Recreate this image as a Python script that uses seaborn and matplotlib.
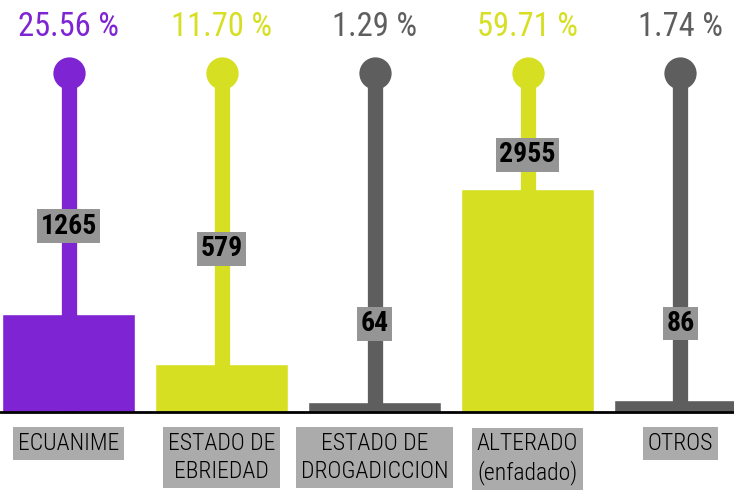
import numpy as np
import pandas as pd
import seaborn as sns
import matplotlib.pyplot as plt
from matplotlib import font_manager as fm

categories = ['ECUANIME', 'ESTADO DE\nEBRIEDAD', 'ESTADO DE\nDROGADICCION', 'ALTERADO\n(enfadado)', 'OTROS']
counts = [1265, 579, 64, 2955, 86]
colors = ['#7e24d2', '#d6df22', '#5e5e5e', '#d6df22', '#5e5e5e']
# height of the count boxes on each stem (fraction of axes height)
count_box_y = [0.451, 0.396, 0.214, 0.624, 0.215]

df = pd.DataFrame({'cat': categories, 'n': counts})
df['pct'] = df['n'] / df['n'].sum() * 100

# look for a narrow font, the original uses a condensed face
font_kw = {'family': 'DejaVu Sans'}
ttf = fm.fontManager.ttflist
names = {f.name for f in ttf}
for cand in ['Roboto Condensed', 'Liberation Sans Narrow', 'Open Sans Condensed', 'DejaVu Sans Condensed']:
    if cand in names:
        font_kw = {'family': cand}
        break
else:
    if any(f.name == 'DejaVu Sans' and f.stretch == 'condensed' for f in ttf):
        font_kw = {'family': 'DejaVu Sans', 'stretch': 'condensed'}

sns.set_style('white')

fig = plt.figure(figsize=(7.34, 4.9), dpi=100)
ax = fig.add_axes([0, 0.159, 1, 0.841])

sns.barplot(data=df, x='cat', y='n', hue='cat', palette=colors, legend=False,
            width=0.87, saturation=1, ax=ax)

# bars in the original stand a little above the baseline
base = -72
for p in ax.patches:
    p.set_height(p.get_height() - base)
    p.set_y(base)

ymax = 5518
ax.set_xlim(-0.45, 4.35)
ax.set_ylim(base, ymax)
stem_top = 0.82 * ymax
xt = ax.get_xaxis_transform()

for i, row in df.iterrows():
    c = colors[i]
    ax.vlines(i, base, stem_top, color=c, lw=11, zorder=2)
    ax.scatter([i], [stem_top], s=540, color=c, zorder=3, linewidths=0)
    ax.text(i, 0.934, '{:.2f} %'.format(row['pct']), transform=xt, ha='center', va='center',
            color=c, fontsize=23.5, **font_kw)
    ax.text(i, count_box_y[i], str(row['n']), transform=xt, ha='center', va='center',
            color='black', fontsize=20, fontweight='bold', zorder=5,
            bbox=dict(boxstyle='square,pad=0.12', fc='#959595', ec='none'), **font_kw)
    ax.text(i, -0.048, row['cat'], transform=xt, ha='center', va='top', color='black',
            fontsize=17, fontweight='light', linespacing=1.3, clip_on=False,
            bbox=dict(boxstyle='square,pad=0.2', fc='#ababab', ec='none'), **font_kw)

ax.axhline(base, color='black', lw=2, clip_on=False, zorder=4)
ax.axis('off')

fig.savefig('out.png', dpi=100)
